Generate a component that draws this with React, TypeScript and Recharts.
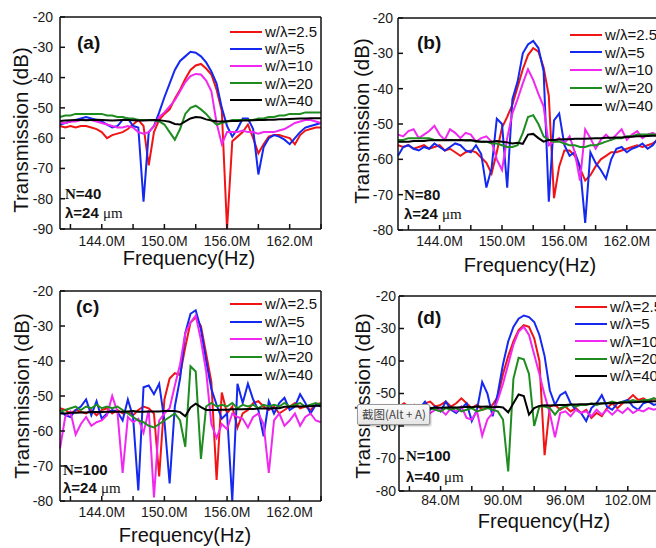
import { LineChart, Line, XAxis, YAxis } from "recharts";

const FONT = "'Liberation Sans', Arial, sans-serif";
const SERIF = "'Liberation Serif', 'Times New Roman', serif";

const SERIES = [
  { key: "r", name: "w/λ=2.5", color: "#f01414" },
  { key: "b", name: "w/λ=5", color: "#1428f0" },
  { key: "m", name: "w/λ=10", color: "#f028f0" },
  { key: "g", name: "w/λ=20", color: "#1e8c1e" },
  { key: "k", name: "w/λ=40", color: "#000000" },
];

// frequency grids (MHz)
const FREQ_ABC = [140, 140.5, 141, 141.5, 142, 142.5, 143, 143.5, 144, 144.5, 145, 145.5, 146, 146.5, 147, 147.5, 148, 148.5, 149, 149.5, 150, 150.5, 151, 151.5, 152, 152.5, 153, 153.5, 154, 154.5, 155, 155.5, 156, 156.5, 157, 157.5, 158, 158.5, 159, 159.5, 160, 160.5, 161, 161.5, 162, 162.5, 163, 163.5, 164, 164.5, 165];
const FREQ_D = [80, 80.5, 81, 81.5, 82, 82.5, 83, 83.5, 84, 84.5, 85, 85.5, 86, 86.5, 87, 87.5, 88, 88.5, 89, 89.5, 90, 90.5, 91, 91.5, 92, 92.5, 93, 93.5, 94, 94.5, 95, 95.5, 96, 96.5, 97, 97.5, 98, 98.5, 99, 99.5, 100, 100.5, 101, 101.5, 102, 102.5, 103, 103.5, 104, 104.5, 105];

const X_TICKS_ABC = [141, 144, 147, 150, 153, 156, 159, 162, 165];
const X_TICKS_D = [81, 84, 87, 90, 93, 96, 99, 102, 105];
const Y_TICKS_A = [-90, -80, -70, -60, -50, -40, -30, -20];
const Y_TICKS_BCD = [-80, -70, -60, -50, -40, -30, -20];

// (a) N=40, λ=24 µm
const RED_A = [-56, -56.5, -56, -56.5, -56, -56, -56.5, -57, -58, -60, -59, -58.5, -58, -57, -55.5, -54, -56, -69, -58, -54, -52, -50.5, -47, -44, -40.5, -37.5, -36, -35.5, -37, -39, -44, -51, -90, -61, -59.5, -58, -55.5, -60, -65, -62, -59.5, -59, -59, -59.5, -60, -62, -59, -57.5, -57, -56.5, -56.5];
const BLUE_A = [-55.5, -55, -54.5, -54, -53.5, -53, -53.5, -54, -54.5, -55.5, -56.5, -56, -54, -53.5, -56, -56.5, -81, -58, -56, -51.5, -46.5, -42, -37.5, -34.5, -33, -31.5, -31.8, -33, -35, -38, -42, -50, -56, -59.5, -57, -53.5, -53.5, -57, -72, -63, -60, -59, -59.5, -60.5, -62, -60, -58, -56.5, -56, -55.5, -55];
const MAGENTA_A = [-55, -55, -54.5, -54.5, -54, -54, -54, -54.5, -55, -55.5, -56, -56.5, -56.5, -56, -56.5, -58, -58.5, -58, -56, -53, -51.5, -49.5, -47.5, -44.5, -41.5, -39.5, -38.8, -39, -41, -44.5, -55, -62, -58, -58, -58, -57.5, -58, -58, -58.5, -58, -58, -58, -57.5, -57, -56, -55, -54.5, -54, -54, -54.5, -55];
const GREEN_A = [-53, -52.5, -52.5, -52, -52, -52, -52, -52, -52, -52.5, -52.5, -53, -53, -53.5, -53.5, -54, -54, -54, -54, -54.5, -55.5, -58, -60.5, -57, -52, -50, -49.3, -50.5, -52, -54, -55.5, -55, -54.5, -54, -54, -54, -54, -54, -53.5, -53.5, -53, -53, -52.5, -52.5, -52, -52, -52, -51.5, -51.5, -51.5, -51.5];
const BLACK_A = [-54.3, -54.2, -54.1, -54, -54, -54.1, -54, -53.9, -54, -54.1, -54.2, -54.1, -54, -54, -54.1, -54.2, -54.2, -54.1, -54, -54.1, -54.3, -54.6, -55.3, -55.5, -54.5, -53.5, -53, -53.2, -53.8, -54.2, -54.4, -54.5, -54.4, -54.3, -54.3, -54.2, -54.2, -54.1, -54, -54, -53.9, -53.9, -53.8, -53.8, -53.7, -53.6, -53.5, -53.5, -53.4, -53.4, -53.4];

// (b) N=80, λ=24 µm
const RED_B = [-56, -56.5, -56, -57, -56.5, -56, -57, -56.5, -56, -57.5, -57, -58, -59, -58, -57.5, -58, -59.5, -61, -64, -58, -51, -48, -44.5, -39.5, -34.5, -30.5, -28.5, -29.5, -34, -42, -71, -62, -57.5, -57.5, -59, -62.5, -66, -64.5, -62, -60, -59, -58, -58, -57.5, -57, -56.5, -56, -56.5, -56, -55.5, -54.5];
const BLUE_B = [-59, -56.5, -56, -57, -57.5, -56.5, -57, -55.5, -56.5, -57.5, -56.5, -55.5, -56, -57.5, -58, -56, -58.5, -68, -62.5, -48.5, -50, -68, -43, -38, -30, -27.5, -26.5, -28.5, -35, -72, -49, -47, -56, -59, -58, -62, -78, -58, -61, -63, -65.5, -60, -57, -56.5, -58, -57, -56.5, -55.5, -57, -56, -54];
const MAGENTA_B = [-53, -53.5, -52, -51.5, -54, -53, -52, -50.5, -53, -54.5, -51.5, -52.5, -54, -52.5, -53, -55, -54, -53.5, -55, -60, -63, -54, -47, -43, -38.5, -34.5, -37.5, -41.5, -45, -56, -55, -54, -55.5, -53.5, -58, -66, -51.5, -54, -57, -54.5, -53, -54.5, -53, -51.5, -54.5, -53, -52, -54, -53, -52.5, -53.5];
const GREEN_B = [-54.5, -54.5, -54, -54, -54, -54, -54, -54.5, -54.5, -54.5, -54.5, -54.5, -54.5, -54.5, -54.5, -55, -55, -55, -55.5, -55.5, -56, -56.5, -56.5, -56, -52.5, -48, -47.5, -50, -53.5, -54.5, -55, -55, -55.5, -56, -56, -56.5, -56.5, -56, -56, -55.5, -55, -54.5, -54, -54, -53.5, -53.5, -53, -53, -53, -53, -53];
const BLACK_B = [-55, -55, -55, -54.8, -54.8, -54.8, -54.6, -54.6, -54.6, -54.6, -54.5, -54.6, -54.5, -54.7, -54.6, -54.8, -55, -55, -55, -54.8, -55, -55.2, -55.5, -55.3, -55.6, -53, -52.8, -54, -55, -54.5, -54.5, -54.4, -54.3, -54.3, -54.2, -54.2, -54.2, -54.1, -54, -54, -53.9, -53.9, -53.8, -53.8, -53.7, -53.6, -53.5, -53.5, -53.4, -53.3, -53.3];

// (c) N=100, λ=24 µm
const RED_C = [-53.5, -54, -55, -54, -54.5, -55, -54, -55.5, -54, -53.5, -55, -54, -55, -54.5, -55.5, -54, -53, -53.5, -55, -73, -51, -45, -43.5, -44, -36, -29, -27.5, -30, -38, -46, -74, -49, -55, -53, -59, -55, -54, -52, -51.5, -53, -54, -53, -55, -54, -53, -52, -53.5, -53, -54, -52.5, -52];
const BLUE_C = [-54, -55.5, -56, -54, -53, -51, -55.5, -51.5, -56.5, -55, -54, -54.5, -57, -51, -56, -77, -47.5, -47, -49.5, -46.5, -57, -75, -53, -45, -32, -26.5, -25.5, -31, -40, -48, -52.5, -56.5, -55, -80, -46.5, -52, -46.5, -51, -54, -61.5, -51.5, -55, -52, -50.5, -54, -53, -49.5, -52, -55, -52.5, -53];
const MAGENTA_C = [-65, -56, -54.5, -61, -58, -56, -58.5, -57.5, -57, -55.5, -50, -54.5, -72, -56, -57.5, -56.5, -60.5, -54, -79, -57, -55, -53.5, -47, -41, -32, -29, -27, -34, -43, -58, -62, -58, -59.5, -55, -56, -56.5, -59, -56, -55, -58, -72, -57, -55, -58.5, -57, -55, -58.5, -56, -55, -57, -57.5];
const GREEN_C = [-54.5, -54, -53.5, -53, -54, -53, -53.5, -52.5, -53.5, -53, -53.5, -53, -54, -55, -56, -57, -57.5, -58.5, -59, -58, -57, -56, -55, -57, -64.5, -41.5, -43, -68, -53, -52, -53, -52.5, -53, -52, -53.5, -52.5, -53, -52.5, -53.5, -52.5, -53, -52.5, -53, -52, -53, -52.5, -52, -53, -52.5, -52, -52.5];
const BLACK_C = [-55, -55, -54.8, -54.8, -54.7, -54.7, -54.6, -54.6, -54.6, -54.5, -54.5, -54.5, -54.5, -54.4, -54.3, -54.5, -54.5, -54.4, -54.4, -54.4, -54.3, -54.3, -54.3, -54.6, -55.8, -53.3, -52.2, -53.2, -54, -54, -54, -53.9, -53.9, -53.8, -53.8, -53.8, -53.7, -53.7, -53.6, -53.6, -53.6, -53.5, -53.5, -53.1, -53.1, -53, -53, -52.9, -52.9, -52.8, -52.8];

// (d) N=100, λ=40 µm
const RED_D = [-54, -53, -54.5, -53.5, -55, -53, -52.5, -54, -53.5, -52.5, -54, -53, -51.5, -53, -54.5, -53.5, -55, -54.5, -53.5, -51, -44, -38.5, -34, -30.5, -29, -29.5, -33, -40, -69, -54, -53.5, -55, -54, -55.5, -54.5, -56, -55, -57.5, -56, -57, -54.5, -53, -54.5, -53, -52, -50.5, -52, -51.5, -52.5, -51.5, -52];
const BLUE_D = [-55, -54, -56, -57, -54.5, -52.5, -55, -54, -55.5, -52.5, -55, -56, -54.5, -53, -58.5, -55, -46.5, -50, -57, -50, -41, -34, -29.5, -27, -26, -26.5, -28, -32, -38.5, -49, -53.5, -50.5, -49.5, -53, -55, -56, -58.5, -54.5, -53, -50.5, -54, -55, -53, -52.5, -52, -54, -55, -53, -52.5, -53.5, -53];
const MAGENTA_D = [-56, -55, -56.5, -55.5, -56, -54.5, -56, -55, -55, -56.5, -54.5, -55.5, -54, -57.5, -58, -55.5, -63, -58, -56, -52, -47, -41, -35, -31, -29.5, -32, -38, -44, -50.5, -56, -63.5, -56, -55.5, -57, -55, -56, -55.5, -57, -55, -56.5, -55, -56.5, -55, -56, -54.5, -56, -55, -55.5, -54.5, -55, -54.5];
const GREEN_D = [-55, -54.5, -55.5, -54.5, -55, -55.5, -54.5, -55, -55.5, -54.5, -55, -54.5, -55.5, -55, -54.5, -55.5, -55, -54.5, -55, -55.5, -58, -74, -45.5, -39, -39.5, -44, -60, -54, -54, -54.5, -56.5, -54.5, -54, -53.5, -54, -53.5, -53.5, -53, -53.5, -53, -53, -52.5, -53, -52.5, -52.5, -52, -52.5, -52, -52, -51.5, -52];
const BLACK_D = [-54.5, -54.5, -54.3, -54.5, -54.4, -54.3, -54.5, -54.3, -54.4, -54.3, -54.2, -54.3, -54.2, -54.1, -54.2, -54, -54.1, -54, -54.2, -54.1, -54.3, -55.8, -53, -50.3, -50.8, -56.5, -54.5, -53.8, -53.6, -53.7, -53.6, -53.5, -53.5, -53.4, -53.4, -53.3, -53.3, -53.2, -53.1, -53.1, -53, -53, -52.9, -52.8, -52.8, -52.7, -52.6, -52.5, -52.5, -52.4, -52.3];

// headroom above the plot so the top tick label is not clipped
const TOP_PAD = 12;

const PANELS = [
  {
    id: "a", freq: FREQ_ABC, red: RED_A, blue: BLUE_A, magenta: MAGENTA_A, green: GREEN_A, black: BLACK_A,
    xDomain: [140, 165], xTicks: X_TICKS_ABC, yDomain: [-90, -20], yTicks: Y_TICKS_A,
    box: { left: 0, top: 16, w: 322, h: 253 }, yTickMargin: 12, xTickMargin: 12,
    legend: { x: 230, y: 23, rowH: 17.2 }, tag: { x: 77, y: 33 },
    n: "=40", lam: "=24", note: { x: 65, y: 186, y2: 205 },
    yTitle: { x: 20, y: 130 }, xTitle: { x: 189, y: 248 },
  },
  {
    id: "b", freq: FREQ_ABC, red: RED_B, blue: BLUE_B, magenta: MAGENTA_B, green: GREEN_B, black: BLACK_B,
    xDomain: [140, 165], xTicks: X_TICKS_ABC, yDomain: [-80, -20], yTicks: Y_TICKS_BCD,
    box: { left: 338, top: 17, w: 321, h: 253 }, yTickMargin: 10, xTickMargin: 11,
    legend: { x: 570, y: 26, rowH: 17.6 }, tag: { x: 417, y: 33 },
    n: "=80", lam: "=24", note: { x: 404, y: 187, y2: 206 },
    yTitle: { x: 361, y: 121 }, xTitle: { x: 530, y: 255 },
  },
  {
    id: "c", freq: FREQ_ABC, red: RED_C, blue: BLUE_C, magenta: MAGENTA_C, green: GREEN_C, black: BLACK_C,
    xDomain: [140, 165], xTicks: X_TICKS_ABC, yDomain: [-80, -20], yTicks: Y_TICKS_BCD,
    box: { left: 0, top: 290, w: 322, h: 251 }, yTickMargin: 12, xTickMargin: 11,
    legend: { x: 230, y: 295, rowH: 17.7 }, tag: { x: 76, y: 297 },
    n: "=100", lam: "=24", note: { x: 63, y: 462, y2: 480 },
    yTitle: { x: 21, y: 396 }, xTitle: { x: 185, y: 525 },
  },
  {
    id: "d", freq: FREQ_D, red: RED_D, blue: BLUE_D, magenta: MAGENTA_D, green: GREEN_D, black: BLACK_D,
    xDomain: [80, 105], xTicks: X_TICKS_D, yDomain: [-80, -20], yTicks: Y_TICKS_BCD,
    box: { left: 339, top: 295, w: 321, h: 236 }, yTickMargin: 8, xTickMargin: 9,
    legend: { x: 575, y: 298, rowH: 17.3 }, tag: { x: 417, y: 308 },
    n: "=100", lam: "=40", note: { x: 406, y: 448, y2: 469 },
    yTitle: { x: 362, y: 396 }, xTitle: { x: 544, y: 511 },
  },
];

const axisStroke = { stroke: "#111", strokeWidth: 1.5 };
const tickStyle = { fill: "#1a1a1a", fontSize: 14, fontFamily: FONT };
const fmtFreq = (v: number) => (v % 6 === 0 ? `${v.toFixed(1)}M` : "");

function Panel({ p }: { p: any }) {
  const data = p.freq.map((f: number, i: number) => ({
    f, r: p.red[i], b: p.blue[i], m: p.magenta[i], g: p.green[i], k: p.black[i],
  }));
  return (
    <div style={{ position: "absolute", left: p.box.left, top: p.box.top - TOP_PAD }}>
      <LineChart width={p.box.w} height={p.box.h + TOP_PAD} data={data} margin={{ top: TOP_PAD, right: 0, bottom: 0, left: 0 }}>
        <XAxis xAxisId="top" orientation="top" type="number" dataKey="f" domain={p.xDomain}
          height={1} tick={false} tickLine={false} axisLine={axisStroke} />
        <XAxis type="number" dataKey="f" domain={p.xDomain} ticks={p.xTicks} interval={0}
          height={40} tickSize={-5} tickMargin={p.xTickMargin} tickFormatter={fmtFreq}
          tick={tickStyle} axisLine={axisStroke} tickLine={axisStroke} />
        <YAxis type="number" domain={p.yDomain} ticks={p.yTicks} interval={0} width={60}
          tickSize={-5} tickMargin={p.yTickMargin} tick={tickStyle}
          axisLine={axisStroke} tickLine={axisStroke} />
        <YAxis yAxisId="right" orientation="right" type="number" domain={p.yDomain} ticks={p.yTicks}
          interval={0} width={1} tickSize={-5} tick={false} axisLine={axisStroke} tickLine={axisStroke} />
        {SERIES.map((s) => (
          <Line key={s.key} type="linear" dataKey={s.key} name={s.name} stroke={s.color}
            strokeWidth={2} dot={false} activeDot={false} isAnimationActive={false} />
        ))}
      </LineChart>
    </div>
  );
}

function Overlay({ p }: { p: any }) {
  return (
    <>
      {/* legend */}
      <div style={{ position: "absolute", left: p.legend.x, top: p.legend.y }}>
        {SERIES.map((s) => (
          <div key={s.key} style={{ height: p.legend.rowH, display: "flex", alignItems: "center", whiteSpace: "nowrap" }}>
            <div style={{ width: 32, height: 2, background: s.color }} />
            <span style={{ marginLeft: 3, fontSize: 15, lineHeight: "15px", color: "#111" }}>{s.name}</span>
          </div>
        ))}
      </div>
      {/* panel tag */}
      <div style={{ position: "absolute", left: p.tag.x, top: p.tag.y, fontSize: 19, fontWeight: "bold", lineHeight: "19px", color: "#111" }}>
        ({p.id})
      </div>
      {/* N and wavelength */}
      <div style={{ position: "absolute", left: p.note.x, top: p.note.y, fontSize: 15, lineHeight: "15px", fontWeight: "bold", color: "#111", whiteSpace: "nowrap" }}>
        <span style={{ fontFamily: SERIF }}>N</span>{p.n}
      </div>
      <div style={{ position: "absolute", left: p.note.x, top: p.note.y2, fontSize: 15, lineHeight: "15px", color: "#111", whiteSpace: "nowrap" }}>
        <b>λ{p.lam}</b> <span style={{ fontFamily: SERIF }}>μm</span>
      </div>
      {/* axis titles */}
      <div style={{ position: "absolute", left: p.yTitle.x, top: p.yTitle.y, transform: "translate(-50%, -50%) rotate(-90deg)", fontSize: 20.5, lineHeight: "21px", color: "#111", whiteSpace: "nowrap" }}>
        Transmission (dB)
      </div>
      <div style={{ position: "absolute", left: p.xTitle.x, top: p.xTitle.y, transform: "translateX(-50%)", fontSize: 20, lineHeight: "20px", color: "#111", whiteSpace: "nowrap" }}>
        Frequency(Hz)
      </div>
    </>
  );
}

export default function App() {
  return (
    <div style={{ position: "fixed", left: 0, top: 0, width: 656, height: 548, overflow: "hidden", background: "#fff", fontFamily: FONT }}>
      {PANELS.map((p) => (
        <Panel key={p.id} p={p} />
      ))}
      {PANELS.map((p) => (
        <Overlay key={p.id} p={p} />
      ))}
      {/* screenshot-tool tooltip captured in the figure */}
      <div style={{ position: "absolute", left: 357, top: 404, width: 73, height: 21, boxSizing: "border-box", border: "1px solid #9a9a9a", borderRadius: 2, background: "linear-gradient(#fbfbfb, #e6e6e6)", boxShadow: "1px 1px 2px rgba(0,0,0,0.35)", fontFamily: "'Noto Sans CJK SC', sans-serif", fontSize: 11.5, lineHeight: "19px", color: "#444", paddingLeft: 4, whiteSpace: "nowrap" }}>
        截图(Alt + A)
      </div>
    </div>
  );
}
